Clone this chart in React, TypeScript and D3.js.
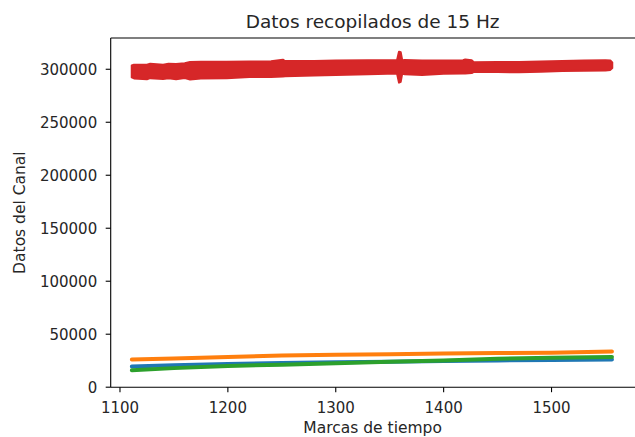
import React from "react";
import * as d3 from "d3";

// Timestamps and channel readings
const lineTimes = [1111, 1150, 1200, 1250, 1300, 1350, 1400, 1450, 1500, 1556];
const channelBlue = [19500, 20700, 21900, 22800, 23500, 24000, 24700, 25300, 25700, 26200];
const channelOrange = [26100, 27100, 28600, 29800, 30600, 31000, 31700, 32200, 32600, 33600];
const channelGreen = [16000, 18000, 20000, 21300, 22600, 24000, 25300, 26800, 27700, 28600];

// The fourth channel is very noisy: its spread is kept as an upper/lower envelope
const redTimes = [
  1110.9, 1113, 1125, 1128, 1140, 1145, 1152, 1160, 1165, 1175, 1199, 1220, 1240, 1251, 1253,
  1280, 1300, 1330, 1356.8, 1358.6, 1360.2, 1361.6, 1364, 1380, 1400, 1418, 1420, 1426, 1428,
  1450, 1470, 1490, 1510, 1530, 1550, 1554.5, 1556.3,
];
const redHigh = [
  303500, 304300, 304300, 305200, 304300, 305300, 305000, 305600, 306900, 307200, 307200, 307300,
  307600, 309000, 307800, 307900, 308200, 308500, 308600, 316600, 316000, 308600, 308700, 308300,
  308200, 308600, 309300, 308400, 306700, 306800, 306900, 307300, 307800, 308300, 308600, 308200,
  306500,
];
const redLow = [
  292300, 291400, 290600, 291600, 290800, 291400, 290500, 291700, 290300, 291200, 291500, 292800,
  292800, 293200, 293500, 294200, 294500, 295200, 296000, 287400, 288200, 296000, 295200, 294700,
  295700, 296000, 296000, 296400, 297600, 297300, 297200, 297700, 298400, 298700, 298900, 299400,
  301200,
];

const xTicks = [1100, 1200, 1300, 1400, 1500];
const yTicks = [0, 50000, 100000, 150000, 200000, 250000, 300000];

const W = 635;
const H = 437;
const left = 110.7;
const right = 634.6;
const top = 38;
const bottom = 387.2;
const FONT = "DejaVu Sans, sans-serif";
const TEXT = "#262626";

export default function App() {
  const x = d3.scaleLinear().domain([1091.4, 1577]).range([left, right]);
  const y = d3.scaleLinear().domain([0, 329500]).range([bottom, top]);

  const line = d3
    .line<number>()
    .x((_, i) => x(lineTimes[i]))
    .y((d) => y(d));

  const band = d3
    .area<number>()
    .x((t) => x(t))
    .y0((_, i) => y(redLow[i]))
    .y1((_, i) => y(redHigh[i]));

  const series = [
    { values: channelBlue, color: "#1f77b4" },
    { values: channelOrange, color: "#ff7f0e" },
    { values: channelGreen, color: "#2ca02c" },
  ];

  return (
    <svg
      width={W}
      height={H}
      style={{ position: "fixed", left: 0, top: 0, background: "#fff" }}
      fontFamily={FONT}
    >
      <defs>
        <clipPath id="plot-area">
          <rect x={left} y={top} width={right - left} height={bottom - top} />
        </clipPath>
      </defs>

      <g clipPath="url(#plot-area)">
        {series.map((s, i) => (
          <path
            key={i}
            d={line(s.values) ?? ""}
            fill="none"
            stroke={s.color}
            strokeWidth={4}
            strokeLinecap="round"
            strokeLinejoin="round"
          />
        ))}
        <path
          d={band(redTimes) ?? ""}
          fill="#d62728"
          stroke="#d62728"
          strokeWidth={2}
          strokeLinejoin="round"
        />
      </g>

      {/* spines */}
      <line x1={left} x2={left} y1={top} y2={bottom} stroke="#000" strokeWidth={1.1} />
      <line x1={left} x2={W} y1={bottom} y2={bottom} stroke="#000" strokeWidth={1.1} />
      <line x1={left} x2={W} y1={top} y2={top} stroke="#000" strokeWidth={1.1} />

      {/* x axis */}
      {xTicks.map((t) => (
        <g key={t} transform={`translate(${x(t)},${bottom})`}>
          <line y1={0} y2={5} stroke="#000" strokeWidth={1.1} />
          <text y={26} textAnchor="middle" fontSize={15} fill={TEXT}>
            {t}
          </text>
        </g>
      ))}
      <text x={(left + right) / 2} y={433} textAnchor="middle" fontSize={15.5} fill={TEXT}>
        Marcas de tiempo
      </text>

      {/* y axis */}
      {yTicks.map((t) => (
        <g key={t} transform={`translate(${left},${y(t)})`}>
          <line x1={0} x2={-5} stroke="#000" strokeWidth={1.1} />
          <text x={-13.5} dy="0.36em" textAnchor="end" fontSize={15} fill={TEXT}>
            {t}
          </text>
        </g>
      ))}
      <text
        transform={`translate(25,${(top + bottom) / 2}) rotate(-90)`}
        textAnchor="middle"
        fontSize={15.5}
        fill={TEXT}
      >
        Datos del Canal
      </text>

      <text x={(left + right) / 2} y={28} textAnchor="middle" fontSize={18.5} fill={TEXT}>
        Datos recopilados de 15 Hz
      </text>
    </svg>
  );
}
